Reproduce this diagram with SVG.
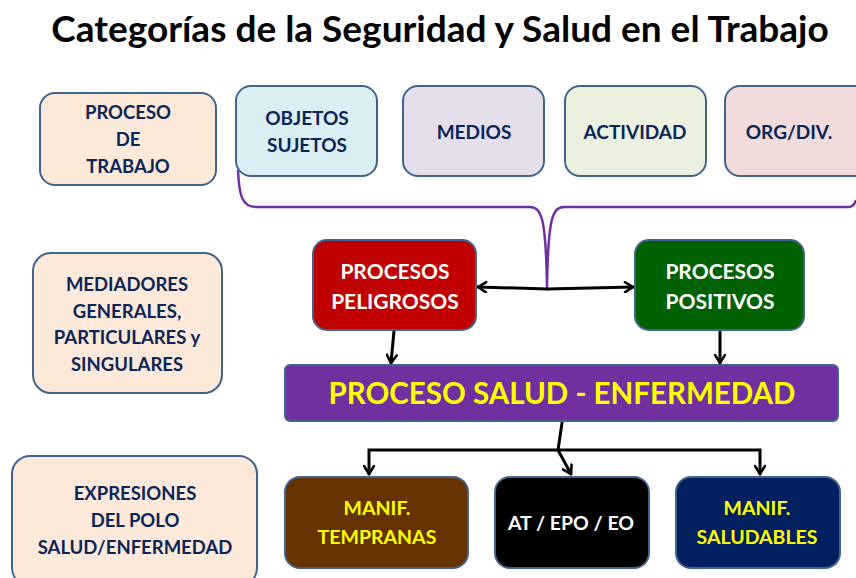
<svg xmlns="http://www.w3.org/2000/svg" width="856" height="578" viewBox="0 0 856 578">
<defs>
<marker id="arr" viewBox="0 0 12 12" refX="10" refY="6" markerWidth="12" markerHeight="12" markerUnits="userSpaceOnUse" orient="auto-start-reverse">
<path d="M2,1 L10,6 L2,11" fill="none" stroke="#000" stroke-width="2.6" stroke-linecap="round" stroke-linejoin="round"/>
</marker>
<style>
text{font-family:Lato,"Open Sans","Liberation Sans",sans-serif;font-weight:bold;text-anchor:middle}
.box{stroke:#41648f;stroke-width:2}
.lbl{fill:#0b2559;font-size:18.5px}
.top{fill:#0b2559;font-size:19px}
.wt{fill:#fff;font-size:21px}
.yl{fill:#ffff00;font-size:19.5px}
.con{fill:none;stroke:#000;stroke-width:3;stroke-linecap:round}
</style>
</defs>
<rect width="856" height="578" fill="#fff"/>
<text x="440" y="42" font-size="37" fill="#000">Categorías de la Seguridad y Salud en el Trabajo</text>

<g id="connectors">
<path d="M238,170 C239,195 242,207 256,207 L530,207 C542,207 546,220 547,288 C548,220 552,207 564,207 L848,207 C853,207 855,204 856,200" fill="none" stroke="#7030a0" stroke-width="2.5"/>
<path class="con" d="M547,289 L478,287" marker-end="url(#arr)"/>
<path class="con" d="M547,289 L633,287" marker-end="url(#arr)"/>
<path class="con" d="M394,331 L391,363" marker-end="url(#arr)"/>
<path class="con" d="M720,331 L720,363" marker-end="url(#arr)"/>
<path class="con" d="M562,423 L558,450 L369,450 L369,474" marker-end="url(#arr)"/>
<path class="con" d="M558,450 L571,474" marker-end="url(#arr)"/>
<path class="con" d="M558,450 L760,450 L760,474" marker-end="url(#arr)"/>
</g>

<g id="proceso-trabajo">
<rect class="box" x="40" y="93" width="176" height="92" rx="15" fill="#fde9d9"/>
<text class="lbl" x="128" y="119">PROCESO</text>
<text class="lbl" x="128" y="146">DE</text>
<text class="lbl" x="128" y="173">TRABAJO</text>
</g>
<g id="mediadores">
<rect class="box" x="33" y="253" width="189" height="140" rx="18" fill="#fde9d9"/>
<text class="lbl" x="127" y="291">MEDIADORES</text>
<text class="lbl" x="127" y="318">GENERALES,</text>
<text class="lbl" x="127" y="344">PARTICULARES y</text>
<text class="lbl" x="127" y="371">SINGULARES</text>
</g>
<g id="expresiones">
<rect class="box" x="12" y="456" width="245" height="130" rx="18" fill="#fde9d9"/>
<text class="lbl" x="135" y="500">EXPRESIONES</text>
<text class="lbl" x="135" y="527">DEL POLO</text>
<text class="lbl" x="135" y="554">SALUD/ENFERMEDAD</text>
</g>

<g id="objetos">
<rect class="box" x="236" y="86" width="141" height="90" rx="15" fill="#dbeef4"/>
<text class="top" x="307" y="125">OBJETOS</text>
<text class="top" x="307" y="152">SUJETOS</text>
</g>
<g id="medios">
<rect class="box" x="403" y="86" width="141" height="90" rx="15" fill="#e5dfec"/>
<text class="top" x="474" y="139">MEDIOS</text>
</g>
<g id="actividad">
<rect class="box" x="565" y="86" width="141" height="90" rx="15" fill="#ebf1de"/>
<text class="top" x="635" y="139">ACTIVIDAD</text>
</g>
<g id="orgdiv">
<rect class="box" x="725" y="86" width="145" height="90" rx="15" fill="#f2dcdb"/>
<text class="top" x="789" y="139">ORG/DIV.</text>
</g>

<g id="peligrosos">
<rect class="box" x="313" y="240" width="163" height="90" rx="14" fill="#c00000"/>
<text class="wt" x="395" y="279">PROCESOS</text>
<text class="wt" x="395" y="309">PELIGROSOS</text>
</g>
<g id="positivos">
<rect class="box" x="635" y="240" width="169" height="90" rx="14" fill="#006100"/>
<text class="wt" x="720" y="279">PROCESOS</text>
<text class="wt" x="720" y="309">POSITIVOS</text>
</g>

<g id="salud-enfermedad">
<rect class="box" x="285" y="365" width="553" height="56" rx="5" fill="#7030a0"/>
<text x="562" y="404" font-size="29.5" fill="#ffff00">PROCESO SALUD - ENFERMEDAD</text>
</g>

<g id="tempranas">
<rect class="box" x="285" y="477" width="183" height="91" rx="15" fill="#663300"/>
<text class="yl" x="377" y="515">MANIF.</text>
<text class="yl" x="377" y="544">TEMPRANAS</text>
</g>
<g id="at-epo-eo">
<rect class="box" x="495" y="477" width="154" height="91" rx="15" fill="#000"/>
<text x="571" y="530" font-size="19.5" fill="#fff">AT / EPO / EO</text>
</g>
<g id="saludables">
<rect class="box" x="676" y="477" width="164" height="91" rx="15" fill="#002060"/>
<text class="yl" x="757" y="515">MANIF.</text>
<text class="yl" x="757" y="544">SALUDABLES</text>
</g>
</svg>
